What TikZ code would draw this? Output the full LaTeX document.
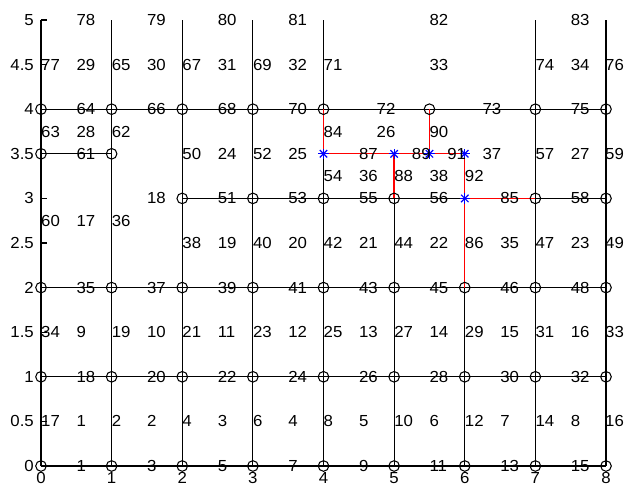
\documentclass[tikz,border=0pt]{standalone}
\usepackage{fontspec}
\setmainfont{Liberation Sans}[FakeStretch=1.05]
\usepackage{xcolor}
\usepackage{tikz}
\definecolor{meshblack}{HTML}{000000}
\definecolor{pathred}{rgb}{1,0,0}
\definecolor{starblue}{rgb}{0,0,1}

\tikzset{
    meshline/.style={draw=meshblack, line width=1.05bp},
    redline/.style={draw=pathred, line width=1.4bp},
    nodemark/.style={draw=meshblack, line width=1.05bp},
    numlabel/.style={anchor=west, inner sep=0pt, font=\fontsize{16bp}{18bp}\selectfont},
    lastlabel/.style={numlabel, xshift=-1bp},
    yticklabel/.style={anchor=east, inner sep=0pt, xshift=-7bp, font=\fontsize{16bp}{18bp}\selectfont},
    xticklabel/.style={anchor=north, inner sep=0pt, yshift=-6.5bp, font=\fontsize{16bp}{18bp}\selectfont},
    bluestar/.pic={
        \draw[draw=starblue, line width=1.2bp] (-5.2bp,0) -- (5.2bp,0);
        \draw[draw=starblue, line width=1.2bp] (0,-5.2bp) -- (0,5.2bp);
        \draw[draw=starblue, line width=1.2bp] (-3.7bp,-3.7bp) -- (3.7bp,3.7bp);
        \draw[draw=starblue, line width=1.2bp] (-3.7bp,3.7bp) -- (3.7bp,-3.7bp);
    }
}

\begin{document}
\begin{tikzpicture}[x=70.625bp, y=89.2bp]
        \useasboundingbox (-41bp,-21bp) rectangle (583bp,466bp);

        % ----------------------------------------------------
        % AXES (ticks and tick labels)
        % ----------------------------------------------------
        \foreach \yv in {0,0.5,...,5} {
            \draw[meshline] (0,\yv) -- ++(5.6bp,0);
            \node[yticklabel] (yt\yv) at (0,\yv) {\yv};
        }
        \foreach \xv in {0,...,8} {
            \draw[meshline] (\xv,0) -- ++(0,5.6bp);
            \node[xticklabel] (xt\xv) at (\xv,0) {\xv};
        }

        % ----------------------------------------------------
        % MESH LINES
        % ----------------------------------------------------
        \foreach \yv in {0,1,2,4} {
            \draw[meshline] (0,\yv) -- (8,\yv);
        }
        \draw[meshline] (2,3) -- (6,3);
        \draw[meshline] (7,3) -- (8,3);
        \draw[meshline] (0,3.5) -- (1,3.5);
        \foreach \xv in {0,1,2,3,7,8} {
            \draw[meshline] (\xv,0) -- (\xv,5);
        }
        \draw[meshline] (4,0) -- (4,3.5);
        \draw[meshline] (4,4) -- (4,5);
        \draw[meshline] (5,0) -- (5,3);
        \draw[meshline] (6,0) -- (6,2);

        % ----------------------------------------------------
        % PATH
        % ----------------------------------------------------
        \draw[redline] (4,4) -- (4,3.5) -- (6,3.5);
        \draw[redline] (5.5,4) -- (5.5,3.5);
        \draw[redline] (5,3) -- (5,3.5);
        \draw[redline] (6,2) -- (6,3.5);
        \draw[redline] (6,3) -- (7,3);

        % ----------------------------------------------------
        % NODE MARKERS
        % ----------------------------------------------------
        \foreach \yv in {0,1,2} {
            \foreach \xv in {0,...,8} {
                \draw[nodemark] (\xv,\yv) circle (5.3bp);
            }
        }
        \foreach \xv in {2,3,4,5,7,8} {
            \draw[nodemark] (\xv,3) circle (5.3bp);
        }
        \foreach \xv in {0,1} {
            \draw[nodemark] (\xv,3.5) circle (5.3bp);
        }
        \foreach \xv in {0,1,2,3,4,5.5,7,8} {
            \draw[nodemark] (\xv,4) circle (5.3bp);
        }
        \foreach \xv/\yv in {4/3.5,5/3.5,5.5/3.5,6/3.5,6/3} {
            \pic at (\xv,\yv) {bluestar};
        }

        % ----------------------------------------------------
        % NUMBERS
        % ----------------------------------------------------
        % row y = 0 and y = 1
        \foreach \i in {1,...,8} {
            \pgfmathtruncatemacro{\numbot}{2*\i-1}
            \pgfmathtruncatemacro{\numone}{16+2*\i}
            \node[numlabel] (rzero\i) at (\i-0.5,0) {\numbot};
            \node[numlabel] (rone\i) at (\i-0.5,1) {\numone};
        }
        % row y = 0.5 and y = 1.5
        \node[numlabel] (vhalf0) at (0,0.5) {17};
        \node[numlabel] (vonehalf0) at (0,1.5) {34};
        \foreach \i in {1,...,8} {
            \pgfmathtruncatemacro{\cellA}{\i}
            \pgfmathtruncatemacro{\cellB}{8+\i}
            \node[numlabel] (chalf\i) at (\i-0.5,0.5) {\cellA};
            \node[numlabel] (conehalf\i) at (\i-0.5,1.5) {\cellB};
        }
        \foreach \i in {1,...,7} {
            \pgfmathtruncatemacro{\edgeA}{2*\i}
            \pgfmathtruncatemacro{\edgeB}{17+2*\i}
            \node[numlabel] (vhalf\i) at (\i,0.5) {\edgeA};
            \node[numlabel] (vonehalf\i) at (\i,1.5) {\edgeB};
        }
        \node[lastlabel] (vhalf8) at (8,0.5) {16};
        \node[lastlabel] (vonehalf8) at (8,1.5) {33};
        % row y = 2
        \foreach \xv/\t in {0.5/35,1.5/37,2.5/39,3.5/41,4.5/43,5.5/45,6.5/46,7.5/48} {
            \node[numlabel] (r2n\t) at (\xv,2) {\t};
        }
        % row y = 2.5
        \foreach \xv/\t in {2/38,2.5/19,3/40,3.5/20,4/42,4.5/21,5/44,5.5/22,6/86,6.5/35,7/47,7.5/23} {
            \node[numlabel] (r25n\t) at (\xv,2.5) {\t};
        }
        \node[lastlabel] (r25n49) at (8,2.5) {49};
        % row y = 2.75
        \foreach \xv/\t in {0/60,0.5/17,1/36} {
            \node[numlabel] (r275n\t) at (\xv,2.75) {\t};
        }
        % row y = 3
        \foreach \xv/\t in {1.5/18,2.5/51,3.5/53,4.5/55,5.5/56,6.5/85,7.5/58} {
            \node[numlabel] (r3n\t) at (\xv,3) {\t};
        }
        % row y = 3.25
        \foreach \xv/\t in {4/54,4.5/36,5/88,5.5/38,6/92} {
            \node[numlabel] (r325n\t) at (\xv,3.25) {\t};
        }
        % row y = 3.5
        \foreach \xv/\t in {0.5/61,2/50,2.5/24,3/52,3.5/25,4.5/87,5.25/89,5.75/91,6.25/37,7/57,7.5/27} {
            \node[numlabel] (r35n\t) at (\xv,3.5) {\t};
        }
        \node[lastlabel] (r35n59) at (8,3.5) {59};
        % row y = 3.75
        \foreach \xv/\t in {0/63,0.5/28,1/62,4/84,4.75/26,5.5/90} {
            \node[numlabel] (r375n\t) at (\xv,3.75) {\t};
        }
        % row y = 4
        \foreach \xv/\t in {0.5/64,1.5/66,2.5/68,3.5/70,4.75/72,6.25/73,7.5/75} {
            \node[numlabel] (r4n\t) at (\xv,4) {\t};
        }
        % row y = 4.5
        \foreach \xv/\t in {0/77,0.5/29,1/65,1.5/30,2/67,2.5/31,3/69,3.5/32,4/71,5.5/33,7/74,7.5/34} {
            \node[numlabel] (r45n\t) at (\xv,4.5) {\t};
        }
        \node[lastlabel] (r45n76) at (8,4.5) {76};
        % row y = 5
        \foreach \xv/\t in {0.5/78,1.5/79,2.5/80,3.5/81,5.5/82,7.5/83} {
            \node[numlabel] (r5n\t) at (\xv,5) {\t};
        }
    \end{tikzpicture}
\end{document}
